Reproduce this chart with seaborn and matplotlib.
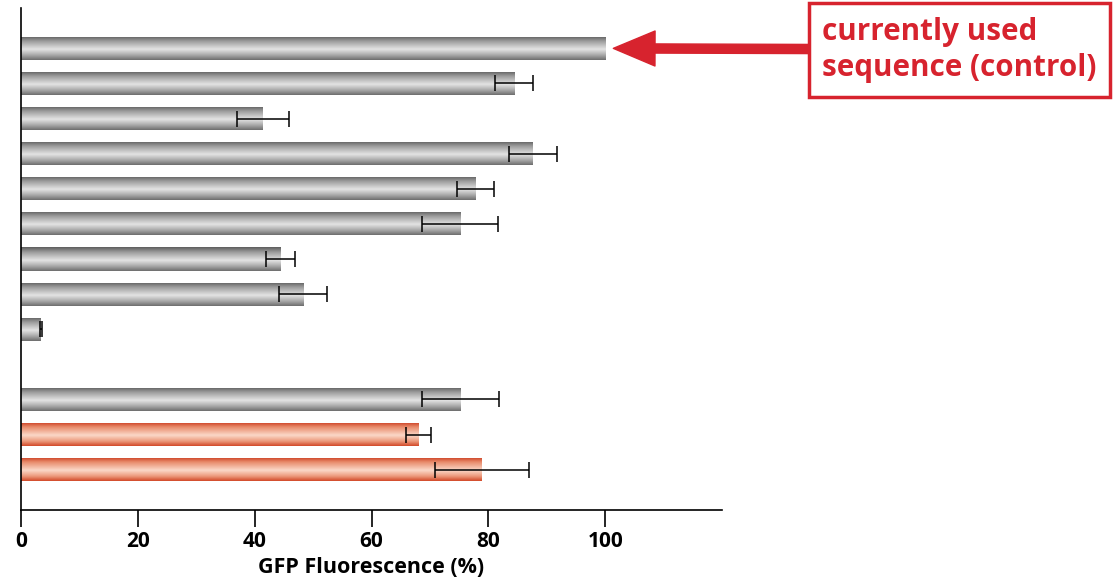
import matplotlib
matplotlib.use("Agg")
import matplotlib.pyplot as plt
from matplotlib.colors import to_rgb
import seaborn as sns
import pandas as pd
import numpy as np

# bar values (GFP fluorescence, % of control) and error (+/-)
constructs = ["S1", "S2", "S3", "S4", "S5", "S6", "S7", "S8", "S9", "S10", "S11", "S12"]
values = [100.0, 84.4, 41.4, 87.6, 77.8, 75.2, 44.4, 48.3, 3.4, 75.2, 68.0, 78.9]
errors = [0.0, 3.2, 4.5, 4.1, 3.2, 6.5, 2.5, 4.1, 0.2, 6.6, 2.1, 8.1]
groups = ["gray"] * 10 + ["orange"] * 2
# empty slot between S9 and S10
order = ["S1", "S2", "S3", "S4", "S5", "S6", "S7", "S8", "S9", "", "S10", "S11", "S12"]

xticks = [0, 20, 40, 60, 80, 100]
xlabel = "GFP Fluorescence (%)"
note = "currently used\nsequence (control)"

RED = "#d7232e"
palette = {"gray": "#a0a0a0", "orange": "#e8805f"}
# vertical shading (top -> bottom) so the bars look like tubes
shade_pos = [0.0, 0.2, 0.55, 0.8, 1.0]
shades = {
    "gray": ["#5e5e5e", "#9a9a9a", "#e4e4e4", "#a8a8a8", "#6e6e6e"],
    "orange": ["#cc3f22", "#e88a6a", "#fbd8c8", "#ec9a7c", "#d24a2a"],
}

df = pd.DataFrame({"construct": constructs, "value": values,
                   "err": errors, "group": groups})

sns.set_style("white")
plt.rcParams["font.family"] = ["Open Sans", "DejaVu Sans"]
plt.rcParams["text.color"] = "black"
plt.rcParams["axes.labelcolor"] = "black"
plt.rcParams["xtick.color"] = "black"

fig = plt.figure(figsize=(11.13, 5.83), dpi=100)
ax = fig.add_axes([21 / 1113, 1 - 510 / 583, 701 / 1113, 502 / 583])

sns.barplot(data=df, x="value", y="construct", hue="group", order=order,
            palette=palette, dodge=False, legend=False, width=0.66,
            errorbar=None, orient="h", ax=ax)

ax.set_xlim(0, 120)
ax.set_ylim(13.15, -1.15)

# gradient fill clipped to each bar
tpos = np.linspace(0, 1, 64)
lookup = df.set_index("construct")
for p in ax.patches:
    w = p.get_width()
    if not np.isfinite(w) or w <= 0:
        continue
    slot = int(round(p.get_y() + p.get_height() / 2))
    grp = lookup.loc[order[slot], "group"]
    cols = np.array([to_rgb(c) for c in shades[grp]])
    img = np.stack([np.interp(tpos, shade_pos, cols[:, k]) for k in range(3)], axis=-1)
    img = img[:, None, :]
    y0 = p.get_y()
    im = ax.imshow(img, extent=(p.get_x(), p.get_x() + w, y0 + p.get_height(), y0),
                   origin="upper", aspect="auto", zorder=2, interpolation="bilinear")
    im.set_clip_path(p)
    p.set_edgecolor("none")

ax.set_xlim(0, 120)
ax.set_ylim(13.15, -1.15)

# error bars
has_err = df["err"] > 0
ypos = [order.index(c) for c in df.loc[has_err, "construct"]]
ax.errorbar(df.loc[has_err, "value"], ypos, xerr=df.loc[has_err, "err"],
            fmt="none", ecolor="black", elinewidth=1.1, capsize=6,
            capthick=1.1, zorder=4)

# axes styling
for side in ["top", "right"]:
    ax.spines[side].set_visible(False)
for side in ["left", "bottom"]:
    ax.spines[side].set_color("black")
    ax.spines[side].set_linewidth(1.2)
ax.set_yticks([])
ax.set_ylabel("")
ax.set_xticks(xticks)
ax.set_xticklabels([str(t) for t in xticks], fontsize=15, fontweight="bold",
                   color="black")
ax.tick_params(axis="x", direction="out", length=12, width=1.2,
               bottom=True, pad=3, colors="black")
ax.set_xlabel(xlabel, fontsize=15.5, fontweight="bold", labelpad=4,
              color="black")

# callout box and arrow
fig.text(822 / 1113, 1 - 50 / 583, note, color=RED, fontsize=21.3,
         fontweight="bold", ha="left", va="center", linespacing=1.3,
         bbox=dict(boxstyle="square,pad=0.45", facecolor="white",
                   edgecolor=RED, linewidth=2.5))
ax.annotate("", xy=(101.4, 0), xycoords="data",
            xytext=(808 / 1113, 1 - 49 / 583), textcoords="figure fraction",
            annotation_clip=False,
            arrowprops=dict(arrowstyle="simple,head_length=1.5,head_width=1.26,tail_width=0.33",
                            mutation_scale=20, color=RED, shrinkA=0, shrinkB=0))

fig.savefig("out.png", dpi=100)
